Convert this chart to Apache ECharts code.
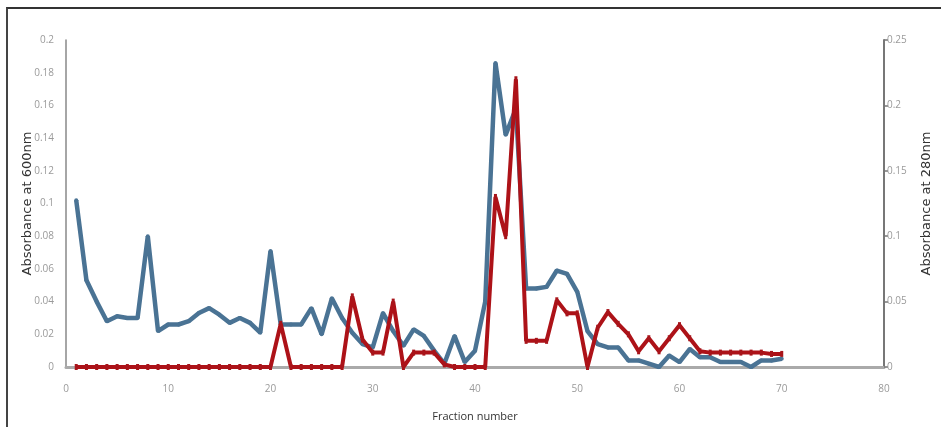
<!DOCTYPE html>
<html>
<head>
<meta charset="utf-8">
<script src="https://cdn.jsdelivr.net/npm/echarts@6/dist/echarts.min.js"></script>
<style>
  html, body { margin: 0; padding: 0; background: #fff; }
  .frame { position: absolute; left: 6px; top: 7px; width: 940px; height: 430px;
           border-left: 2px solid #444; border-top: 2px solid #333; }
  #chart { position: absolute; left: 0; top: 0; width: 941px; height: 427px; }
</style>
</head>
<body>
<div class="frame"></div>
<div id="chart"></div>
<script>
// fraction numbers 1..70
const fractions = [
  1, 2, 3, 4, 5, 6, 7, 8, 9, 10, 11, 12, 13, 14, 15, 16, 17, 18, 19, 20,
  21, 22, 23, 24, 25, 26, 27, 28, 29, 30, 31, 32, 33, 34, 35, 36, 37, 38, 39, 40,
  41, 42, 43, 44, 45, 46, 47, 48, 49, 50, 51, 52, 53, 54, 55, 56, 57, 58, 59, 60,
  61, 62, 63, 64, 65, 66, 67, 68, 69, 70
];

// absorbance at 600nm (left axis)
const abs600 = [
  0.102, 0.053, 0.040, 0.028, 0.031, 0.030, 0.030, 0.080, 0.022, 0.026,
  0.026, 0.028, 0.033, 0.036, 0.032, 0.027, 0.030, 0.027, 0.021, 0.071,
  0.026, 0.026, 0.026, 0.036, 0.020, 0.042, 0.030, 0.021, 0.014, 0.012,
  0.033, 0.022, 0.013, 0.023, 0.019, 0.010, 0.002, 0.019, 0.003, 0.010,
  0.040, 0.186, 0.142, 0.158, 0.048, 0.048, 0.049, 0.059, 0.057, 0.046,
  0.022, 0.014, 0.012, 0.012, 0.004, 0.004, 0.002, 0.000, 0.007, 0.003,
  0.011, 0.006, 0.006, 0.003, 0.003, 0.003, 0.000, 0.004, 0.004, 0.005
];

// absorbance at 280nm (right axis)
const abs280 = [
  0, 0, 0, 0, 0, 0, 0, 0, 0, 0,
  0, 0, 0, 0, 0, 0, 0, 0, 0, 0,
  0.033, 0, 0, 0, 0, 0, 0, 0.054, 0.021, 0.011,
  0.011, 0.050, 0, 0.011, 0.011, 0.011, 0.002, 0, 0, 0,
  0, 0.130, 0.100, 0.220, 0.020, 0.020, 0.020, 0.051, 0.041, 0.041,
  0, 0.030, 0.042, 0.033, 0.025, 0.012, 0.022, 0.012, 0.022, 0.032,
  0.022, 0.012, 0.011, 0.011, 0.011, 0.011, 0.011, 0.011, 0.010, 0.010
];

const pairs = (ys) => fractions.map((x, i) => [x, ys[i]]);

const chart = echarts.init(document.getElementById('chart'));
const tickLabel = { color: '#9a9a9a', fontSize: 10, fontFamily: 'Open Sans' };
const xName = { color: '#333', fontSize: 11, fontFamily: 'Open Sans' };
const yName = { color: '#333', fontSize: 13, fontFamily: 'DejaVu Sans' };

chart.setOption({
  animation: false,
  grid: { left: 66, right: 52, top: 40, bottom: 60 },
  xAxis: {
    type: 'value', min: 0, max: 80, interval: 10,
    name: 'Fraction number', nameLocation: 'middle', nameGap: 44,
    nameTextStyle: xName,
    axisLine: { show: true, lineStyle: { color: '#aaa', width: 3 } },
    axisTick: { show: false },
    axisLabel: Object.assign({ margin: 17 }, tickLabel),
    splitLine: { show: false }
  },
  yAxis: [
    {
      type: 'value', min: 0, max: 0.2, interval: 0.02, position: 'left',
      name: 'Absorbance at 600nm', nameLocation: 'middle', nameGap: 32, nameRotate: 90,
      nameMoveOverlap: false,
      nameTextStyle: yName,
      axisLine: { show: true, lineStyle: { color: '#888', width: 1.5 } },
      axisTick: { show: false },
      axisLabel: Object.assign({ margin: 12 }, tickLabel),
      splitLine: { show: false }
    },
    {
      type: 'value', min: 0, max: 0.25, interval: 0.05, position: 'right',
      name: 'Absorbance at 280nm', nameLocation: 'middle', nameGap: 36, nameRotate: 90,
      nameMoveOverlap: false,
      nameTextStyle: yName,
      axisLine: { show: true, lineStyle: { color: '#777', width: 2 } },
      axisTick: { show: true, length: 4, inside: false, lineStyle: { color: '#777', width: 1.5 } },
      axisLabel: Object.assign({ margin: 3 }, tickLabel),
      splitLine: { show: false }
    }
  ],
  series: [
    {
      name: 'A600', type: 'line', yAxisIndex: 0,
      data: pairs(abs600),
      symbol: 'circle', symbolSize: 4, showSymbol: true,
      lineStyle: { color: '#4a7394', width: 4.5 },
      itemStyle: { color: '#4a7394' },
      z: 2
    },
    {
      name: 'A280', type: 'line', yAxisIndex: 1,
      data: pairs(abs280),
      symbol: 'rect', symbolSize: [3, 6], showSymbol: true,
      lineStyle: { color: '#ad1218', width: 4 },
      itemStyle: { color: '#a8141a' },
      z: 3
    }
  ]
});
</script>
</body>
</html>
